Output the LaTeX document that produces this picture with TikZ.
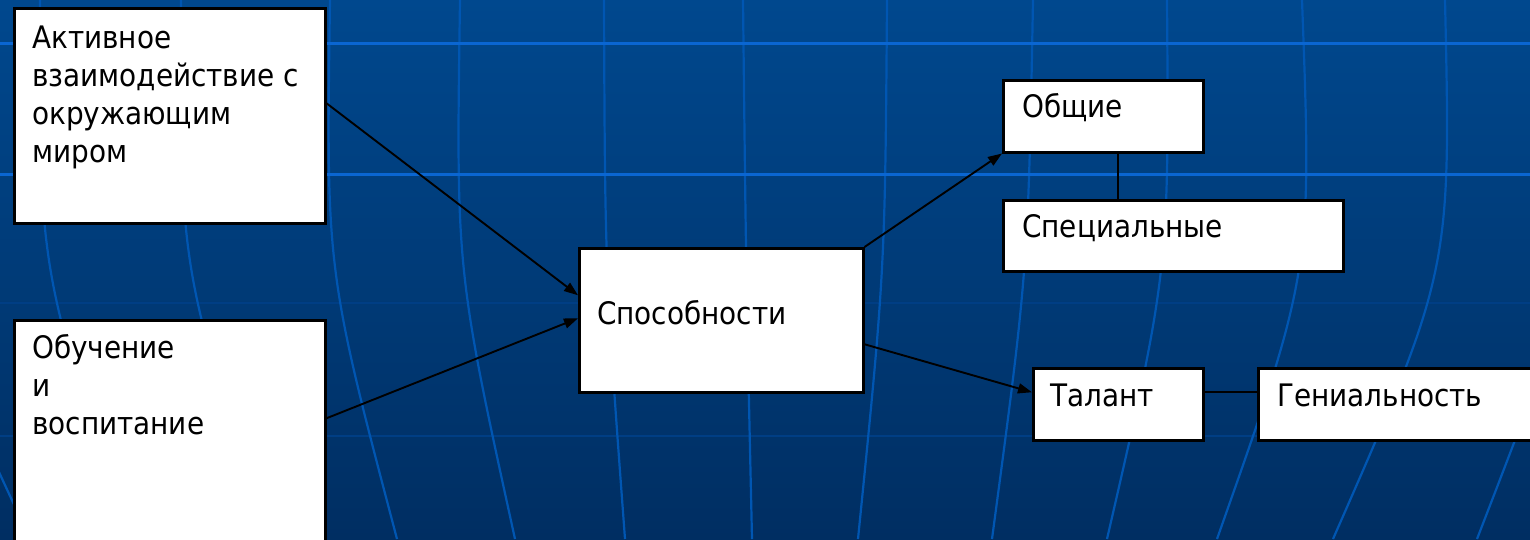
\documentclass[tikz,border=0pt]{standalone}
\usepackage{fontspec}
\setmainfont{DejaVu Sans Condensed}
\usetikzlibrary{arrows.meta}
\definecolor{bgtop}{RGB}{0,72,142}
\definecolor{bgbot}{RGB}{0,46,98}
\definecolor{gridbright}{RGB}{10,102,210}
\definecolor{gridfaint}{RGB}{0,62,132}
\definecolor{meridian}{RGB}{0,86,178}
\tikzset{
  box/.style={draw=black, fill=white, line width=2.5pt, inner sep=0pt, anchor=north west},
  txt/.style={font=\fontsize{31}{38}\selectfont, align=left, inner sep=0pt, anchor=base west, text=black},
  link/.style={draw=black, line width=1.9pt},
  arr/.style={link, -{Triangle[length=14pt,width=10pt]}},
  mer/.style={draw=meridian, line width=2.2pt}
}
\begin{document}
\begin{tikzpicture}[x=1pt,y=-1pt]
\useasboundingbox (0,0) rectangle (1530,539);
% background
\shade[top color=bgtop, bottom color=bgbot] (0,0) rectangle (1530,539);
\draw[draw=gridfaint, line width=2pt] (0,303) -- (1530,303);
\draw[draw=gridfaint, line width=2.5pt] (0,436) -- (1530,436);
\begin{scope}
\clip (0,0) rectangle (1530,539);
\draw[mer] (-90,0) .. controls (-95,270) .. (30,539);
\draw[mer] (40,0) .. controls (39,270) .. (130,539);
\draw[mer] (181,0) .. controls (180,270) .. (270,539);
\draw[mer] (330,0) .. controls (326,270) .. (397,539);
\draw[mer] (460,0) .. controls (456,270) .. (515,539);
\draw[mer] (604,0) .. controls (605,270) .. (625,539);
\draw[mer] (743,0) .. controls (746,270) .. (752,539);
\draw[mer] (887,0) .. controls (885,270) .. (858,539);
\draw[mer] (1033,0) .. controls (1028,270) .. (992,539);
\draw[mer] (1167,0) .. controls (1169,270) .. (1107,539);
\draw[mer] (1302,0) .. controls (1312,270) .. (1217,539);
\draw[mer] (1445,0) .. controls (1451,270) .. (1333,539);
\draw[mer] (1600,0) .. controls (1581,270) .. (1477,539);
\end{scope}
\draw[draw=gridbright, line width=3pt] (0,43) -- (1530,43);
\draw[draw=gridbright, line width=3pt] (0,174) -- (1530,174);
% boxes
\node[box, minimum width=311pt, minimum height=215pt] (A) at (13,7) {};
\node[box, minimum width=311pt, minimum height=231pt] (B) at (13,319) {};
\node[box, minimum width=284pt, minimum height=144pt] (C) at (578,247) {};
\node[box, minimum width=200pt, minimum height=72pt] (O) at (1002,79) {};
\node[box, minimum width=340pt, minimum height=71pt] (S) at (1002,199) {};
\node[box, minimum width=170pt, minimum height=72pt] (T) at (1032,367) {};
\node[box, minimum width=290pt, minimum height=72pt] (G) at (1257,367) {};
% texts (multi-line nodes: base anchor is the last line)
\node[txt] (tA) at (32,162) {Активное\\взаимодействие с\\окружающим\\миром};
\node[txt] (tB) at (32,434) {Обучение\\и\\воспитание};
\node[txt] (tC) at (597,324) {Способности};
\node[txt] (tO) at (1022,117) {Общие};
\node[txt] (tS) at (1022,237) {Специальные};
\node[txt] (tT) at (1050,406) {Талант};
\node[txt] (tG) at (1277,406) {Гениальность};
% connectors
\draw[arr] ([yshift=12.5pt]A.east) -- ([yshift=25pt]C.west);
\draw[arr] ([yshift=17.5pt]B.east) -- ([yshift=2pt]C.west);
\draw[arr] (C.north east) -- (O.south west);
\draw[arr] ([yshift=-24pt]C.east) -- ([yshift=12pt]T.west);
\draw[link] ([xshift=15pt]O.south) -- ([xshift=15pt]O.south |- S.north);
\draw[link] ([yshift=12pt]T.east) -- ([yshift=12pt]T.east -| G.west);
\end{tikzpicture}
\end{document}
